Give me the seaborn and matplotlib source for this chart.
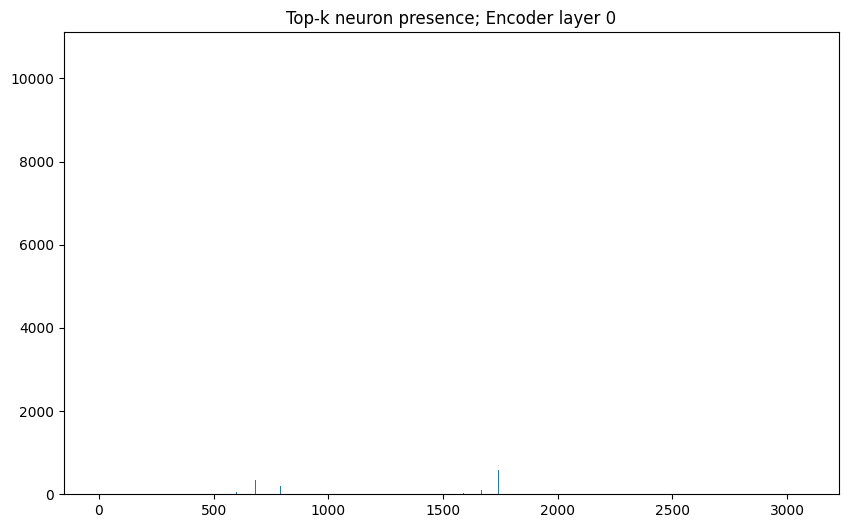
import numpy as np
import matplotlib
matplotlib.use("Agg")
import matplotlib.pyplot as plt
import seaborn as sns

n_neurons = 3072
neuron_idx = [40, 269, 320, 440, 583, 600, 650, 683, 792, 926, 978, 1082, 1086, 1160,
              1226, 1252, 1590, 1668, 1742, 2010, 2185, 2220, 2275, 2380, 2480, 2524, 2925]
counts = [80, 190, 30, 30, 190, 60, 40, 340, 210, 290, 200, 170, 220, 50,
          4830, 100, 30, 100, 580, 30, 70, 40, 40, 170, 500, 10580, 30]

fig, ax = plt.subplots(figsize=(10, 6), dpi=100)
sns.histplot(x=neuron_idx, weights=counts, discrete=True, color="#1f77b4",
             alpha=1, linewidth=0, ax=ax)
ax.set_xlim(-0.5 - 0.05 * n_neurons, n_neurons - 0.5 + 0.05 * n_neurons)
ax.set_ylim(0, max(counts) * 1.05)
ax.set_xlabel("")
ax.set_ylabel("")
ax.set_title("Top-k neuron presence; Encoder layer 0")
fig.savefig("out.png", bbox_inches="tight")
